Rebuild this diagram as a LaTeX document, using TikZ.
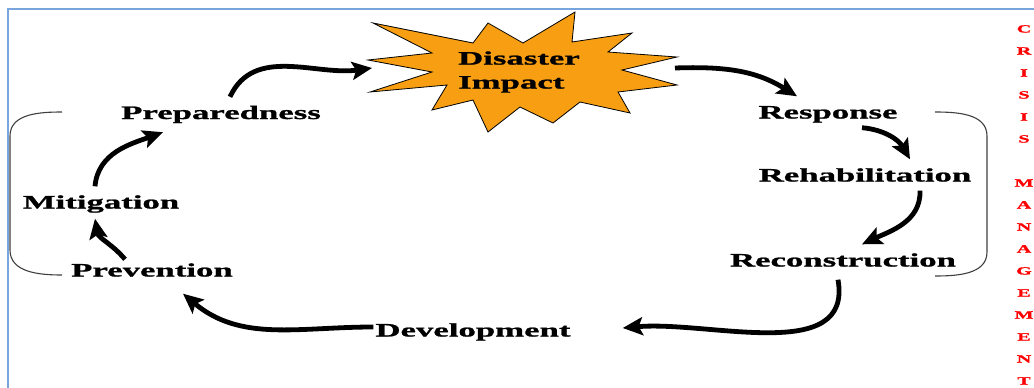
\documentclass[tikz,border=0pt]{standalone}
\usepackage{fontspec}
\setmainfont{Liberation Serif}[FakeStretch=1.83, BoldFeatures={FakeBold=1.2}]
\usepackage{tikz}
\usetikzlibrary{arrows.meta}

\definecolor{burst}{RGB}{247,158,18}
\definecolor{framec}{RGB}{120,165,220}

\begin{document}
\begin{tikzpicture}[x=1pt, y=1pt,
    stage/.style={font=\fontsize{19}{24}\selectfont\bfseries, anchor=base, inner xsep=2pt, inner ysep=9pt, text height=13pt, text depth=4pt},
    flow/.style={line width=4.8pt, -{Stealth[length=20pt,width=18pt,inset=4pt]}},
    brace/.style={draw=black!75, line width=1.1pt},
    letter/.style={font=\fontsize{11}{12}\selectfont\bfseries, text=red, anchor=base, inner sep=0pt}]
    \useasboundingbox (0,0) rectangle (1034,-388);
    \fill[white] (0,0) rectangle (1034,-388);
    \draw[framec, line width=2pt] (8,-388) -- (8,-9) -- (1034,-9);

    % the burst
    \draw[fill=burst, line width=0.8pt, line join=miter]
        (373,-23) -- (473,-43) -- (488,-23) -- (523,-43) -- (575,-12) -- (572,-42)
        -- (632,-33) -- (608,-52) -- (677,-57) -- (622,-70) -- (677,-85) -- (618,-92)
        -- (630,-113) -- (580,-102) -- (553,-123) -- (520,-107) -- (488,-132) -- (473,-100)
        -- (432,-110) -- (447,-85) -- (370,-92) -- (432,-72) -- (368,-60) -- (432,-53) -- cycle;
    \node[font=\fontsize{19}{24}\selectfont\bfseries, align=left, inner sep=0pt] (impact) at (519,-72) {Disaster\\Impact};
    \coordinate (impactW) at (372,-68);
    \coordinate (impactE) at (675,-68);

    \foreach \n/\x/\y/\t in {prep/221/119/Preparedness, miti/101/208.5/Mitigation, prev/152/276.5/Prevention,
        devel/473/336.5/Development, recon/843/266.5/Reconstruction, rehab/865/181.5/Rehabilitation, resp/828/118.5/Response}
    \node[stage] (\n) at (\x,-\y) {\t};

    % the cycle
    \draw[flow] ([xshift=9pt]prep.north) to[out=65,in=188] (impactW);
    \draw[flow] (impactE) to[out=2,in=148] ([xshift=-31pt]resp.north);
    \draw[flow] ([xshift=34pt,yshift=4pt]resp.south) to[out=-5,in=120] ([xshift=45pt]rehab.north);
    \draw[flow] ([xshift=55pt,yshift=4pt]rehab.south) to[out=-88,in=25] ([xshift=19pt]recon.north);
    \draw[flow] ([xshift=-5pt]recon.south) to[out=-80,in=5] ([xshift=50pt,yshift=4pt]devel.east);
    \draw[flow] ([yshift=5pt]devel.west) to[out=180,in=-40] ([xshift=31pt,yshift=-4pt]prev.south);
    \draw[flow] ([xshift=-27pt,yshift=-5pt]prev.north) to[out=130,in=-80] ([xshift=-6pt,yshift=3pt]miti.south);
    \draw[flow] ([xshift=-6pt]miti.north) to[out=85,in=200] ([xshift=-58pt]prep.south);

    % brackets
    \draw[brace] (62,-112) to[out=180,in=90] (10,-136) -- (10,-250) to[out=-90,in=180] (62,-275);
    \draw[brace] (935,-112) to[out=0,in=90] (987,-136) -- (987,-252) to[out=-90,in=0] (935,-276);

    \foreach \l/\k in {C/0,R/1,I/2,S/3,I/4,S/5,M/7,A/8,N/9,A/10,G/11,E/12,M/13,E/14,N/15,T/16}
    \node[letter] (cm\k) at (1024,{-32.5-22*\k}) {\l};
\end{tikzpicture}
\end{document}
